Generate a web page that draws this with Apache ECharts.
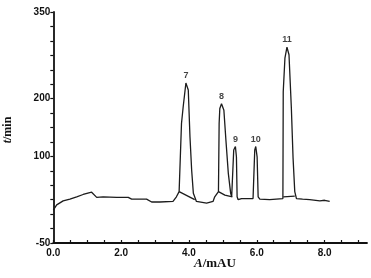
<!DOCTYPE html>
<html><head><meta charset="utf-8">
<script src="https://cdn.jsdelivr.net/npm/echarts@6/dist/echarts.min.js"></script>
<style>html,body{margin:0;padding:0;background:#fff}#c{width:371px;height:278px}</style>
</head><body><div id="c"></div>
<script>
// Main chromatogram trace: x (A/mAU) and y (t/min)
const traceX = [0,0.1,0.29,0.49,0.69,0.88,1.13,1.16,1.28,1.47,1.87,2.21,2.31,2.75,2.9,3.14,3.53,3.63,3.71,3.78,3.83,3.91,3.98,4.03,4.08,4.13,4.22,4.52,4.71,4.76,4.87,4.89,4.91,4.96,5.03,5.09,5.16,5.23,5.26,5.28,5.32,5.37,5.40,5.42,5.45,5.55,5.89,5.91,5.94,5.97,6.01,6.04,6.09,6.38,6.77,6.78,6.83,6.89,6.95,7.02,7.07,7.12,7.17,7.35,7.56,7.86,8.0,8.15];
const traceY = [7,16,23,26,30,34,38,40,29,30,29,29,26,26,21,21,22,30,39,157,186,227,215,134,76,36,22,19,22,30,39,157,183,191,180,128,71,36,30,33,111,117,99,30,25,27,27,30,111,117,99,30,26,25,27,212,270,289,276,183,97,39,27,26,25,23,24,22];
// Underlying baseline segments beneath peaks
const baseX1 = [3.71,4.17];
const baseY1 = [39,25];
const baseX2 = [4.87,5.06,5.28];
const baseY2 = [39,33,30];
const baseX3 = [6.78,7.12];
const baseY3 = [30,31];
// Peak labels
const peakNames = ['7','8','9','10','11'];
const peakX = [3.91,4.96,5.37,5.97,6.89];
const peakY = [227,191,117,117,289];
// Axis labels
const yTickLabels = [350,200,100,-50];
const xTickLabels = [0,2,4,6,8];

const toPairs = (xs, ys) => xs.map((x,i)=>[x, ys[i]]);
const lineColor = '#1c1c1c';
const chart = echarts.init(document.getElementById('c'), null, {renderer:'canvas'});
const lineSeries = (xs, ys) => ({
  type:'line', data: toPairs(xs, ys), symbol:'none', smooth:false, silent:true,
  lineStyle:{color:lineColor, width:1.3}, animation:false
});
const labelFont = 'Liberation Sans, Arial, sans-serif';
chart.setOption({
  animation:false,
  backgroundColor:'#fff',
  grid:{left:53.3, right:4, top:12, bottom:35},
  xAxis:{
    type:'value', min:0, max:9.25, interval:0.5,
    axisLine:{onZero:false, lineStyle:{color:'#111', width:1.8}},
    axisTick:{show:true, inside:true, length:3, lineStyle:{color:'#111', width:1.2}},
    splitLine:{show:false},
    axisLabel:{
      color:'#111', fontSize:10, fontWeight:'bold', fontFamily:labelFont, margin:5,
      formatter:(v)=> xTickLabels.some(t=>Math.abs(t-v)<1e-6) ? v.toFixed(1) : '',
      showMaxLabel:false
    }
  },
  yAxis:{
    type:'value', min:-50, max:350, interval:25,
    axisLine:{show:true, onZero:false, lineStyle:{color:'#111', width:1.8}},
    axisTick:{show:true, length:3, lineStyle:{color:'#111', width:1.2}},
    splitLine:{show:false},
    axisLabel:{
      color:'#111', fontSize:10, fontWeight:'bold', fontFamily:labelFont, margin:3,
      formatter:(v)=> yTickLabels.indexOf(v) >= 0 ? String(v) : ''
    }
  },
  graphic:[
    {type:'text', left:194, top:257, style:{
      text:'{i|A}/mAU', fill:'#111',
      rich:{i:{fontStyle:'italic', fontFamily:'Liberation Serif, Times New Roman, serif', fontSize:13, fontWeight:'bold', fill:'#111'}},
      font:'bold 13px "Liberation Serif", "Times New Roman", serif'
    }},
    {type:'text', x:8, y:130, rotation:Math.PI/2, style:{
      text:'{i|t}/min', fill:'#111', align:'center', verticalAlign:'middle',
      rich:{i:{fontStyle:'italic', fontFamily:'Liberation Serif, Times New Roman, serif', fontSize:12, fontWeight:'bold', fill:'#111'}},
      font:'bold 12px "Liberation Serif", "Times New Roman", serif'
    }}
  ],
  series:[
    lineSeries(traceX, traceY),
    lineSeries(baseX1, baseY1),
    lineSeries(baseX2, baseY2),
    lineSeries(baseX3, baseY3),
    {
      type:'scatter', symbolSize:0, silent:true,
      data: peakX.map((x,i)=>({value:[x, peakY[i]], name:peakNames[i]})),
      label:{show:true, position:'top', distance:3, formatter:(p)=>p.name,
        color:'#111', fontSize:9, fontWeight:'bold', fontFamily:labelFont}
    }
  ]
});
</script></body></html>
